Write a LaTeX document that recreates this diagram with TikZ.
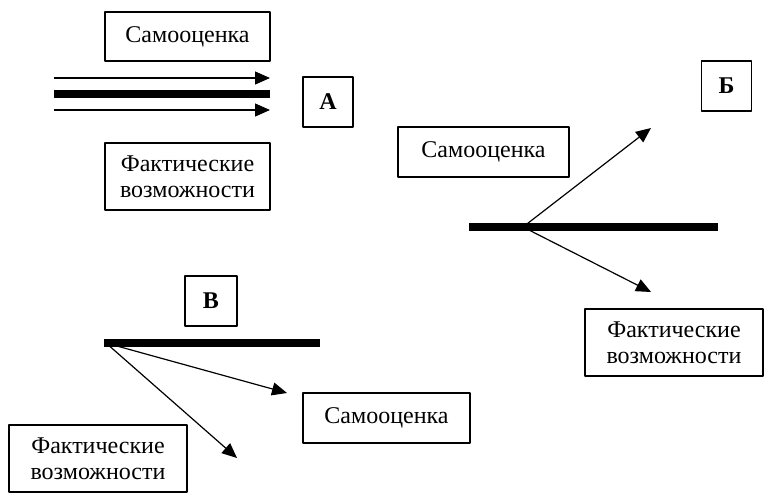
\documentclass[tikz,border=0pt]{standalone}
\usepackage{fontspec}
\setmainfont{Liberation Serif}
\usetikzlibrary{arrows.meta}
\begin{document}
\begin{tikzpicture}[x=0.5pt,y=-0.5pt,>={Triangle[length=7.5pt,width=6.5pt]},line join=round,font=\fontsize{12}{13}\selectfont,
	box/.style={draw,line width=0.6pt,inner sep=0pt,align=center},
	letter/.style={box,font=\fontsize{12}{13}\selectfont\bfseries},
	bar/.style={line width=4pt},
	ray/.style={->,line width=0.6pt}]
	\useasboundingbox (0,0) rectangle (764,492);
	% А
	\node[box,minimum width=82.5pt,minimum height=24.5pt] (samA) at (187.5,36.5) {Самооценка};
	\node[box,minimum width=82.5pt,minimum height=33.5pt] (faktA) at (187.5,176.5) {Фактические\\возможности};
	\node[letter,minimum size=25pt] (letA) at (328,102) {А};
	\path
	(54,78) coordinate (A1s) (270,78) coordinate (A1e)
	(54,94) coordinate (A2s) (270,94) coordinate (A2e)
	(54,110) coordinate (A3s) (270,110) coordinate (A3e);
	\draw[ray] (A1s) -- (A1e);
	\draw[bar] (A2s) -- (A2e);
	\draw[ray] (A3s) -- (A3e);
	% Б
	\node[letter,minimum size=25pt] (letB) at (726.5,86) {Б};
	\node[box,minimum width=85.5pt,minimum height=25pt] (samB) at (483.5,152) {Самооценка};
	\node[box,minimum width=89pt,minimum height=33.5pt] (faktB) at (674,342.5) {Фактические\\возможности};
	\path
	(469,227) coordinate (Bs) (718,227) coordinate (Be)
	(523,227) coordinate (BO)
	(651,128) coordinate (Bup) (651,292) coordinate (Bdn);
	\draw[bar] (Bs) -- (Be);
	\draw[ray] (BO) -- (Bup);
	\draw[ray] (BO) -- (Bdn);
	% В
	\node[letter,minimum width=26pt,minimum height=25pt] (letV) at (211,301) {В};
	\node[box,minimum width=83.5pt,minimum height=25pt] (samV) at (386.5,418) {Самооценка};
	\node[box,minimum width=89pt,minimum height=33.5pt] (faktV) at (98,458.5) {Фактические\\возможности};
	\path
	(104,343) coordinate (Vs) (320,343) coordinate (Ve)
	(106,343) coordinate (VO)
	(287,393) coordinate (V1) (237,458) coordinate (V2);
	\draw[bar] (Vs) -- (Ve);
	\draw[ray] (VO) -- (V1);
	\draw[ray] (VO) -- (V2);
\end{tikzpicture}
\end{document}
